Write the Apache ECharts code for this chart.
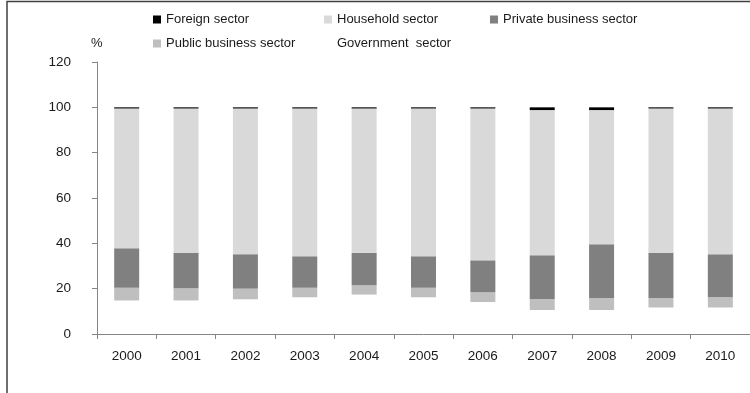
<!DOCTYPE html>
<html>
<head>
<meta charset="utf-8">
<script src="https://cdn.jsdelivr.net/npm/echarts@6/dist/echarts.min.js"></script>
<style>
  html, body { margin: 0; padding: 0; background: #ffffff; }
  #chart { width: 750px; height: 393px; }
</style>
</head>
<body>
<div id="chart"></div>
<script>
// Sector shares by year, in percent (stacked bottom to top)
const years = ['2000', '2001', '2002', '2003', '2004', '2005', '2006', '2007', '2008', '2009', '2010'];
const governmentSector = [14.8, 14.8, 15.3, 16.2, 17.4, 16.2, 14.1, 10.6, 10.6, 11.7, 11.7];
const publicBusinessSector = [5.6, 5.4, 4.7, 4.2, 4.1, 4.2, 4.3, 4.7, 5.3, 4.2, 4.5];
const privateBusinessSector = [17.4, 15.6, 15.2, 13.9, 14.3, 13.9, 14.1, 19.4, 23.7, 20.0, 19.0];
const householdSector = [61.7, 63.7, 64.3, 65.2, 63.7, 65.2, 67.0, 64.1, 59.2, 63.6, 64.3];
const foreignSector = [0.5, 0.5, 0.5, 0.5, 0.5, 0.5, 0.5, 1.2, 1.2, 0.5, 0.5];
const yTicks = [0, 20, 40, 60, 80, 100, 120];

const FONT = '"Liberation Sans Narrow", "Liberation Sans", Arial, sans-serif';
const TEXT_COLOR = '#1a1a1a';

const chart = echarts.init(document.getElementById('chart'), null, { renderer: 'canvas' });

function legendFor(name, left, top) {
  return {
    data: [name],
    left: left,
    top: top,
    padding: 0,
    itemWidth: 8,
    itemHeight: 8,
    icon: 'rect',
    selectedMode: false,
    textStyle: { fontFamily: FONT, fontSize: 13, color: TEXT_COLOR }
  };
}

function barSeries(name, data, color) {
  return {
    name: name,
    type: 'bar',
    stack: 'total',
    data: data,
    barWidth: 25,
    itemStyle: { color: color },
    emphasis: { disabled: true }
  };
}

chart.setOption({
  animation: false,
  backgroundColor: '#ffffff',
  textStyle: { fontFamily: FONT },
  legend: [
    legendFor('Foreign sector', 153, 13),
    legendFor('Household sector', 324, 13),
    legendFor('Private business sector', 490, 13),
    legendFor('Public business sector', 153, 37),
    legendFor('Government  sector', 324, 37)
  ],
  grid: { left: 97, right: -8, top: 62, bottom: 59, containLabel: false },
  xAxis: {
    type: 'category',
    data: years,
    boundaryGap: true,
    axisLine: { lineStyle: { color: '#868686', width: 1 } },
    axisTick: { show: true, length: 5, alignWithLabel: false, lineStyle: { color: '#868686' } },
    axisLabel: { fontFamily: FONT, fontSize: 13.5, color: TEXT_COLOR, margin: 15 }
  },
  yAxis: {
    type: 'value',
    min: yTicks[0],
    max: yTicks[yTicks.length - 1],
    interval: yTicks[1] - yTicks[0],
    axisLine: { show: true, lineStyle: { color: '#868686', width: 1 } },
    axisTick: { show: true, length: 5, lineStyle: { color: '#868686' } },
    splitLine: { show: false },
    axisLabel: { fontFamily: FONT, fontSize: 13.5, color: TEXT_COLOR, margin: 26 }
  },
  graphic: [
    {
      type: 'text',
      left: 91,
      top: 37,
      style: { text: '%', fontFamily: FONT, fontSize: 13, fill: TEXT_COLOR }
    },
    {
      type: 'polyline',
      shape: { points: [[7, 400], [7, 1.5], [760, 1.5]] },
      style: { stroke: '#404040', lineWidth: 1.5, fill: null },
      silent: true
    }
  ],
  series: [
    barSeries('Government  sector', governmentSector, '#ffffff'),
    barSeries('Public business sector', publicBusinessSector, '#bfbfbf'),
    barSeries('Private business sector', privateBusinessSector, '#808080'),
    barSeries('Household sector', householdSector, '#d9d9d9'),
    barSeries('Foreign sector', foreignSector, '#000000')
  ]
});
</script>
</body>
</html>
